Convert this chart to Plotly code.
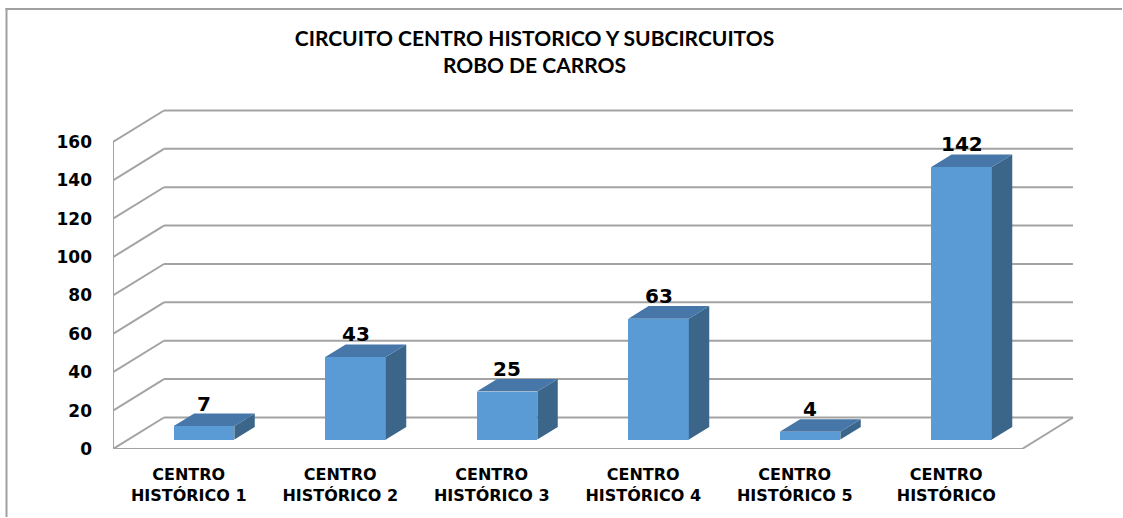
import plotly.graph_objects as go

# Data
categories = ["CENTRO HISTÓRICO 1", "CENTRO HISTÓRICO 2", "CENTRO HISTÓRICO 3",
              "CENTRO HISTÓRICO 4", "CENTRO HISTÓRICO 5", "CENTRO HISTÓRICO"]
robos = [7, 43, 25, 63, 4, 142]
y_ticks = [0, 20, 40, 60, 80, 100, 120, 140, 160]

# Pseudo-3D geometry (in axis units): depth offset of the back wall
DX = 0.3366      # horizontal shift per full depth (category slots)
DY = 16.42       # vertical shift per full depth (value units)
D0, D1 = 0.3, 0.7  # bar depth span (front, back)
BAR_W = 0.4
N = len(categories)

FRONT = "#5b9bd5"
TOP = "#4677a8"
SIDE = "#3b6589"
GRID = "#a3a3a3"

fig = go.Figure()

# Front faces of the bars
xc = [i + 0.5 + D0 * DX for i in range(N)]
fig.add_trace(go.Bar(
    x=xc, y=robos, base=[D0 * DY] * N, width=BAR_W,
    marker=dict(color=FRONT, line=dict(width=0)),
    hoverinfo="skip", showlegend=False,
))

# Top and side faces
top_x, top_y, side_x, side_y = [], [], [], []
d = D1 - D0
for i, v in enumerate(robos):
    x0 = xc[i] - BAR_W / 2
    x1 = xc[i] + BAR_W / 2
    yb = D0 * DY
    yt = yb + v
    top_x += [x0, x1, x1 + d * DX, x0 + d * DX, x0, None]
    top_y += [yt, yt, yt + d * DY, yt + d * DY, yt, None]
    side_x += [x1, x1 + d * DX, x1 + d * DX, x1, x1, None]
    side_y += [yb, yb + d * DY, yt + d * DY, yt, yb, None]

fig.add_trace(go.Scatter(x=side_x, y=side_y, fill="toself", fillcolor=SIDE,
                         mode="lines", line=dict(width=0, color=SIDE),
                         hoverinfo="skip", showlegend=False))
fig.add_trace(go.Scatter(x=top_x, y=top_y, fill="toself", fillcolor=TOP,
                         mode="lines", line=dict(width=0, color=TOP),
                         hoverinfo="skip", showlegend=False))

# Walls, floor and gridlines (beneath the bars)
shapes = []
def seg(xa, ya, xb, yb):
    shapes.append(dict(type="line", xref="x", yref="y", x0=xa, y0=ya, x1=xb, y1=yb,
                       line=dict(color=GRID, width=2), layer="below"))

for t in y_ticks:
    seg(0, t, DX, t + DY)
    seg(DX, t + DY, N + DX, t + DY)
seg(0, 0, 0, y_ticks[-1])
seg(0, 0, N, 0)
seg(N, 0, N + DX, DY)

px_per_slot = 151.5
px_per_unit = 1.91875
L, R, T, B = 113, 40, 100, 69
W, H = 1123, 518
PW, PH = W - L - R, H - T - B

def to_px_paper(px, py):
    return (px - L) / PW, (H - B - py) / PH

# Outer frame of the chart: thin filled strips on the left and top edges
for (ax, ay, bx, by) in [(5.5, 8, 7.5, H - 1), (5.5, 8, W - 1, 10)]:
    x0p, y0p = to_px_paper(ax, by)
    x1p, y1p = to_px_paper(bx, ay)
    shapes.append(dict(type="rect", xref="paper", yref="paper",
                       x0=x0p, y0=y0p, x1=x1p, y1=y1p,
                       fillcolor="#a0a0a0", line=dict(width=0)))

# Value labels
annotations = []
for i, v in enumerate(robos):
    annotations.append(dict(
        x=xc[i], y=D1 * DY + v, xref="x", yref="y",
        text=str(v), showarrow=False, yanchor="bottom", yshift=-4,
        font=dict(family="DejaVu Sans", size=20, color="black", weight="bold"),
    ))

fig.update_layout(
    width=W, height=H, autosize=False,
    margin=dict(l=L, r=R, t=T, b=B),
    paper_bgcolor="white", plot_bgcolor="white",
    bargap=0,
    shapes=shapes, annotations=annotations,
    title=dict(
        text="CIRCUITO CENTRO HISTORICO Y SUBCIRCUITOS<br>ROBO DE CARROS",
        x=534.5 / W, xref="container", xanchor="center",
        y=1 - 46 / H, yref="container", yanchor="top",
        font=dict(family="Lato", size=21, color="black", weight="bold"),
    ),
    xaxis=dict(
        range=[0, PW / px_per_slot],
        tickvals=[i + 0.5 for i in range(N)],
        ticktext=[c.replace(" ", "<br>", 1) for c in categories],
        tickfont=dict(family="DejaVu Sans", size=16, color="black", weight="bold"),
        showgrid=False, zeroline=False, showline=False, ticks="",
        ticklabelstandoff=14,
    ),
    yaxis=dict(
        range=[0, PH / px_per_unit],
        tickvals=y_ticks,
        tickfont=dict(family="DejaVu Sans", size=17, color="black", weight="bold"),
        showgrid=False, zeroline=False, showline=False, ticks="",
        ticklabelstandoff=20,
    ),
    showlegend=False,
)

fig.write_html("out.html")
